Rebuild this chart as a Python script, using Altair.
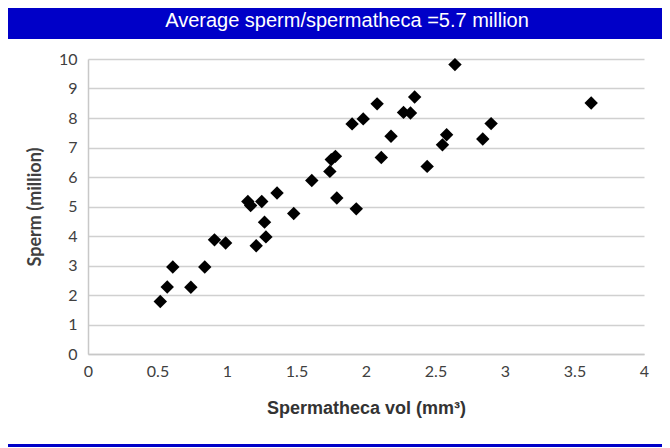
import altair as alt
import pandas as pd

# Data
vol = [0.52, 0.57, 0.61, 0.74, 0.84, 0.91, 0.99, 1.15, 1.17, 1.25, 1.36, 1.27,
       1.28, 1.21, 1.48, 1.61, 1.74, 1.75, 1.78, 1.79, 1.93, 1.90, 1.98, 2.08,
       2.11, 2.18, 2.27, 2.32, 2.35, 2.44, 2.55, 2.58, 2.64, 2.84, 2.90, 3.62]
sperm = [1.78, 2.27, 2.95, 2.26, 2.95, 3.87, 3.76, 5.17, 5.03, 5.17, 5.46, 4.47,
         3.97, 3.67, 4.76, 5.88, 6.19, 6.59, 6.70, 5.29, 4.92, 7.80, 7.97, 8.48,
         6.66, 7.38, 8.19, 8.17, 8.71, 6.36, 7.09, 7.43, 9.81, 7.29, 7.81, 8.51]
x_ticks = [0, 0.5, 1, 1.5, 2, 2.5, 3, 3.5, 4]
y_ticks = [0, 1, 2, 3, 4, 5, 6, 7, 8, 9, 10]
title_text = "Average sperm/spermatheca =5.7 million"
x_title = "Spermatheca vol (mm\u00b3)"
y_title = "Sperm (million)"

BLUE = "#0000C8"
LABEL = "#404040"

df = pd.DataFrame({"vol": vol, "sperm": sperm})

points = alt.Chart(df).mark_point(
    shape="diamond", filled=True, color="black", size=180, opacity=1
).encode(
    x=alt.X("vol:Q",
            scale=alt.Scale(domain=[0, 4], nice=False, zero=True),
            axis=alt.Axis(values=x_ticks, format="~g", title=x_title,
                          grid=False, ticks=False, tickSize=0,
                          labelPadding=9, labelFontSize=16, labelFont="Lato",
                          labelColor=LABEL, labelFlush=False,
                          domainColor="#c8c8c8", domainWidth=1.5,
                          titleFont="Liberation Sans", titleFontSize=18,
                          titleFontWeight="bold",
                          titleColor="#333333", titleY=54, titleBaseline="middle")),
    y=alt.Y("sperm:Q",
            scale=alt.Scale(domain=[0, 10], nice=False),
            axis=alt.Axis(values=y_ticks, title=y_title,
                          grid=True, gridColor="#d0d0d0", gridWidth=1.5,
                          ticks=False, tickSize=0,
                          labelPadding=11, labelFontSize=16, labelFont="Lato",
                          labelColor=LABEL, labelFlush=False,
                          domainColor="#c8c8c8", domainWidth=1.5,
                          titleFont="Lato", titleFontSize=18, titleFontWeight="bold",
                          titleColor=LABEL, titleX=-53, titleBaseline="middle",
                          titleAngle=270)),
)

bar_df = pd.DataFrame({"t": [title_text]})
title_bar = alt.Chart(bar_df).mark_rect(color=BLUE).encode(
    x=alt.value(-80), x2=alt.value(574), y=alt.value(-51), y2=alt.value(-20)
)
title_txt = alt.Chart(bar_df).mark_text(
    color="white", font="Liberation Sans", fontSize=20, align="center", baseline="middle"
).encode(x=alt.value(259), y=alt.value(-38), text="t:N")
bottom_line = alt.Chart(bar_df).mark_rect(color=BLUE).encode(
    x=alt.value(-80), x2=alt.value(574), y=alt.value(385), y2=alt.value(388)
)

chart = alt.layer(title_bar, title_txt, bottom_line, points).properties(
    width=556, height=295,
    autosize=alt.AutoSizeParams(type="none"),
    padding={"left": 80, "top": 51, "right": 18, "bottom": 94},
    background="white",
).configure_view(strokeWidth=0)

chart.save("out.html", embed_options={"renderer": "svg", "actions": False})
